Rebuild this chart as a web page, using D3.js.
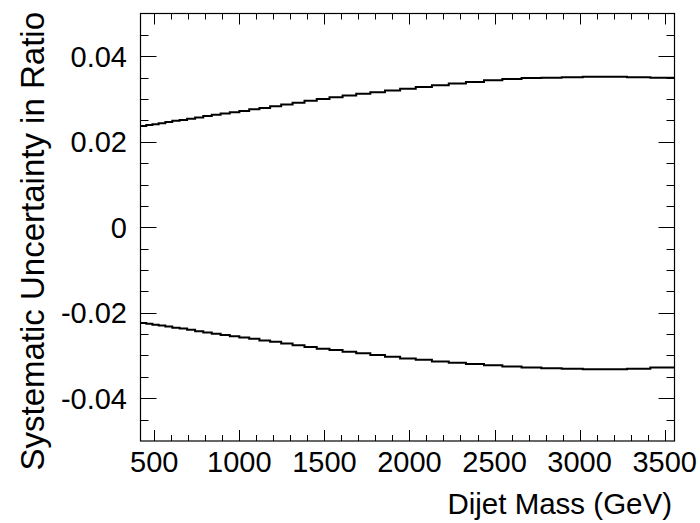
<!DOCTYPE html>
<html>
<head>
<meta charset="utf-8">
<script src="https://cdn.jsdelivr.net/npm/d3@7"></script>
<style>
  body { margin: 0; background: #fff; }
  svg text { font-family: "Liberation Sans", Arial, Helvetica, sans-serif; fill: #000; }
</style>
</head>
<body>
<svg id="chart" width="700" height="523"></svg>
<script>
// Dijet mass bin edges (GeV)
const binEdges = [419, 453, 489, 526, 565, 606, 649, 693, 740, 788, 838, 890, 944, 1000,
  1058, 1118, 1181, 1246, 1313, 1383, 1455, 1530, 1607, 1687, 1770, 1856, 1945, 2037,
  2132, 2231, 2332, 2438, 2546, 2659, 2775, 2895, 3019, 3147, 3279, 3416, 3558];

// upper band (+ systematic)
const upperValues = [0.0237, 0.0239, 0.0241, 0.0243, 0.0246, 0.0249, 0.0251, 0.0254,
  0.0257, 0.0260, 0.0263, 0.0266, 0.0269, 0.0272, 0.0276, 0.0279, 0.0283, 0.0287,
  0.0291, 0.0296, 0.0300, 0.0304, 0.0308, 0.0312, 0.0316, 0.0320, 0.0324, 0.0328,
  0.0332, 0.0336, 0.0340, 0.0344, 0.0347, 0.0349, 0.0350, 0.0351, 0.0352, 0.0352,
  0.0351, 0.0350];

// lower band (- systematic)
const lowerValues = [-0.0224, -0.0226, -0.0228, -0.0230, -0.0232, -0.0235, -0.0237, -0.0240,
  -0.0243, -0.0246, -0.0249, -0.0252, -0.0255, -0.0258, -0.0261, -0.0265, -0.0268, -0.0272,
  -0.0276, -0.0280, -0.0284, -0.0287, -0.0291, -0.0295, -0.0299, -0.0303, -0.0307, -0.0310,
  -0.0314, -0.0317, -0.0320, -0.0323, -0.0326, -0.0328, -0.0330, -0.0331, -0.0332, -0.0332,
  -0.0331, -0.0328];

const xMajorTicks = [500, 1000, 1500, 2000, 2500, 3000, 3500];
const yMajorTicks = [-0.04, -0.02, 0, 0.02, 0.04];

const svg = d3.select('#chart');
const padL = 140.5, padR = 674.5, padT = 13.5, padB = 441;

const x = d3.scaleLinear().domain([419, 3558]).range([padL, padR]);
const y = d3.scaleLinear().domain([-0.05, 0.05]).range([padB, padT]);

// minor ticks
const xMinor = d3.range(500, 3558, 100).filter(v => v % 500 !== 0);
const yMinor = d3.range(-0.045, 0.0501, 0.005)
  .map(v => +v.toFixed(3))
  .filter(v => Math.abs(v) < 0.05 && Math.round(v * 1000) % 20 !== 0);

const ticks = svg.append('g').attr('stroke', '#000').attr('stroke-width', 1);

function xTick(v, len) {
  const px = Math.round(x(v)) + 0.5;
  ticks.append('line').attr('x1', px).attr('x2', px).attr('y1', padB).attr('y2', padB - len);
  ticks.append('line').attr('x1', px).attr('x2', px).attr('y1', padT).attr('y2', padT + len);
}
function yTick(v, len) {
  const py = Math.round(y(v)) + 0.5;
  ticks.append('line').attr('x1', padL).attr('x2', padL + len).attr('y1', py).attr('y2', py);
  ticks.append('line').attr('x1', padR).attr('x2', padR - len).attr('y1', py).attr('y2', py);
}
xMajorTicks.forEach(v => xTick(v, 11));
xMinor.forEach(v => xTick(v, 6));
yMajorTicks.forEach(v => yTick(v, 16));
yMinor.forEach(v => yTick(v, 8));

// frame
svg.append('rect')
  .attr('x', padL).attr('y', padT)
  .attr('width', padR - padL).attr('height', padB - padT)
  .attr('fill', 'none').attr('stroke', '#000').attr('stroke-width', 1.2);

// step histograms
const line = d3.line()
  .x(d => x(d[0]))
  .y(d => y(d[1]))
  .curve(d3.curveStepAfter);

function stepPoints(values) {
  const pts = values.map((v, i) => [binEdges[i], v]);
  pts.push([binEdges[binEdges.length - 1], values[values.length - 1]]);
  return pts;
}

[upperValues, lowerValues].forEach(vals => {
  svg.append('path')
    .datum(stepPoints(vals))
    .attr('d', line)
    .attr('fill', 'none')
    .attr('stroke', '#000')
    .attr('stroke-width', 2);
});

// tick labels
svg.append('g').selectAll('text')
  .data(xMajorTicks)
  .join('text')
  .attr('x', d => x(d))
  .attr('y', 472)
  .attr('text-anchor', 'middle')
  .attr('font-size', 29)
  .text(d => d);

svg.append('g').selectAll('text')
  .data(yMajorTicks)
  .join('text')
  .attr('x', 127)
  .attr('y', d => y(d) + 10.5)
  .attr('text-anchor', 'end')
  .attr('font-size', 29)
  .text(d => d === 0 ? '0' : d.toFixed(2));

// axis titles
svg.append('text')
  .attr('x', 672)
  .attr('y', 514)
  .attr('text-anchor', 'end')
  .attr('font-size', 29.5)
  .text('Dijet Mass (GeV)');

svg.append('text')
  .attr('transform', 'translate(44,12) rotate(-90)')
  .attr('text-anchor', 'end')
  .attr('font-size', 33)
  .text('Systematic Uncertainty in Ratio');
</script>
</body>
</html>
